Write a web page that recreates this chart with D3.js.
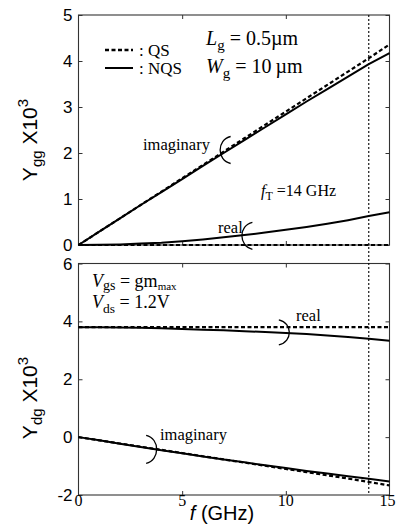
<!DOCTYPE html>
<html>
<head>
<meta charset="utf-8">
<script src="https://cdn.jsdelivr.net/npm/d3@7"></script>
<style>
  html, body { margin: 0; padding: 0; background: #fff; }
  svg { display: block; }
  .sans { font-family: "Liberation Sans", Arial, Helvetica, sans-serif; }
  .serif { font-family: "Liberation Serif", "Times New Roman", Times, serif; }
</style>
</head>
<body>
<svg id="chart" width="396" height="532"></svg>
<script>
// Frequency sweep (GHz)
const freq = [0, 1, 2, 3, 4, 5, 6, 7, 8, 9, 10, 11, 12, 13, 14, 15];

// Ygg x 10^3
const yggImagQS  = [0, 0.29, 0.58, 0.87, 1.16, 1.45, 1.74, 2.03, 2.32, 2.61, 2.90, 3.19, 3.48, 3.77, 4.06, 4.36];
const yggImagNQS = [0, 0.29, 0.58, 0.87, 1.15, 1.43, 1.72, 2.00, 2.28, 2.56, 2.84, 3.12, 3.39, 3.66, 3.93, 4.17];
const yggRealQS  = [0, 0, 0, 0, 0, 0, 0, 0, 0, 0, 0, 0, 0, 0, 0, 0];
const yggRealNQS = [0, 0.003, 0.012, 0.03, 0.05, 0.08, 0.12, 0.17, 0.215, 0.27, 0.33, 0.39, 0.46, 0.54, 0.63, 0.71];

// Ydg x 10^3
const ydgRealQS  = [3.80, 3.80, 3.80, 3.80, 3.80, 3.80, 3.80, 3.80, 3.80, 3.80, 3.80, 3.80, 3.80, 3.80, 3.80, 3.80];
const ydgRealNQS = [3.80, 3.80, 3.79, 3.78, 3.76, 3.74, 3.71, 3.69, 3.66, 3.63, 3.60, 3.56, 3.51, 3.46, 3.40, 3.33];
const ydgImagQS  = [0, -0.11, -0.22, -0.33, -0.44, -0.55, -0.66, -0.77, -0.88, -0.99, -1.10, -1.21, -1.32, -1.43, -1.55, -1.67];
const ydgImagNQS = [0, -0.11, -0.23, -0.34, -0.45, -0.56, -0.67, -0.77, -0.87, -0.97, -1.07, -1.17, -1.26, -1.35, -1.44, -1.53];

// Tick values
const xTicks = [0, 5, 10, 15];
const yggTicks = [0, 1, 2, 3, 4, 5];
const ydgTicks = [-2, 0, 2, 4, 6];
const fT = 14;

const svg = d3.select("#chart");
const x = d3.scaleLinear().domain([0, 15]).range([78.5, 389.5]);
const yTop = d3.scaleLinear().domain([0, 5]).range([245, 15]);
const yBot = d3.scaleLinear().domain([-2, 6]).range([495, 263.5]);

function panel(y, ticks) {
  const g = svg.append("g");
  const [x0, x1] = x.range();
  const [yb, yt] = y.range();
  // inward ticks on all four sides
  const tk = 4;
  const axes = [
    d3.axisLeft(y).tickValues(ticks).tickSize(-tk).tickFormat(""),
    d3.axisRight(y).tickValues(ticks).tickSize(-tk).tickFormat(""),
    d3.axisBottom(x).tickValues([5, 10]).tickSize(-tk).tickFormat(""),
    d3.axisTop(x).tickValues([5, 10]).tickSize(-tk).tickFormat("")
  ];
  const tr = [`translate(${x0},0)`, `translate(${x1},0)`, `translate(0,${yb})`, `translate(0,${yt})`];
  axes.forEach((a, i) => {
    const ag = g.append("g").attr("transform", tr[i]).call(a);
    ag.select(".domain").remove();
    ag.selectAll("line").attr("stroke", "#333").attr("stroke-width", 1);
  });
  g.append("rect")
    .attr("x", x0).attr("y", yt).attr("width", x1 - x0).attr("height", yb - yt)
    .attr("fill", "none").attr("stroke", "#333").attr("stroke-width", 1.1);

  // y tick labels
  g.selectAll("text.ytl").data(ticks).join("text")
    .attr("class", "ytl sans")
    .attr("x", x0 - 6).attr("y", d => y(d) + 6)
    .attr("text-anchor", "end")
    .attr("font-size", 17)
    .text(d => d);
  return g;
}

function line(y, vals, dashed) {
  const gen = d3.line().x((d, i) => x(freq[i])).y(d => y(d));
  svg.append("path")
    .datum(vals)
    .attr("d", gen)
    .attr("fill", "none")
    .attr("stroke", "#000")
    .attr("stroke-width", dashed ? 2.2 : 2)
    .attr("stroke-dasharray", dashed ? "4,2.5" : null);
}

panel(yTop, yggTicks);
panel(yBot, ydgTicks);

// fT marker spanning both panels
svg.append("line")
  .attr("x1", x(fT)).attr("x2", x(fT))
  .attr("y1", yTop.range()[1]).attr("y2", yBot.range()[0])
  .attr("stroke", "#000").attr("stroke-width", 1.1)
  .attr("stroke-dasharray", "2,2");

// data curves
line(yTop, yggImagQS, true);
line(yTop, yggImagNQS, false);
line(yTop, yggRealQS, true);
line(yTop, yggRealNQS, false);
line(yBot, ydgRealQS, true);
line(yBot, ydgRealNQS, false);
line(yBot, ydgImagQS, true);
line(yBot, ydgImagNQS, false);

// x tick labels (bottom panel)
svg.selectAll("text.xtl").data(xTicks).join("text")
  .attr("class", "xtl serif")
  .attr("x", d => x(d) - (d === 15 ? 2 : 0)).attr("y", 506)
  .attr("text-anchor", "middle")
  .attr("font-size", 16)
  .text(d => d);

// x axis title
const xt = svg.append("text")
  .attr("class", "sans")
  .attr("x", 222).attr("y", 520)
  .attr("text-anchor", "middle")
  .attr("font-size", 20);
xt.append("tspan").attr("font-style", "italic").text("f");
xt.append("tspan").text(" (GHz)");

// y axis titles
function yTitle(cy, sub) {
  const t = svg.append("text")
    .attr("class", "sans")
    .attr("transform", `translate(37,${cy}) rotate(-90)`)
    .attr("text-anchor", "middle")
    .attr("font-size", 21);
  t.append("tspan").text("Y");
  t.append("tspan").attr("font-size", 15).attr("dy", 5).text(sub);
  t.append("tspan").attr("dy", -5).text(" X10");
  t.append("tspan").attr("font-size", 15).attr("dy", -9).text("3");
}
yTitle(140, "gg");
yTitle(398, "dg");

// legend
svg.append("line").attr("x1", 105).attr("x2", 133).attr("y1", 50).attr("y2", 50)
  .attr("stroke", "#000").attr("stroke-width", 2.4).attr("stroke-dasharray", "4,2.5");
svg.append("line").attr("x1", 105).attr("x2", 133).attr("y1", 68).attr("y2", 68)
  .attr("stroke", "#000").attr("stroke-width", 2);
svg.append("text").attr("class", "serif").attr("x", 139).attr("y", 56)
  .attr("font-size", 17).text(": QS");
svg.append("text").attr("class", "serif").attr("x", 139).attr("y", 74)
  .attr("font-size", 17).text(": NQS");

// device annotations
function subText(px, py, main, sub, rest, size) {
  const t = svg.append("text").attr("class", "serif").attr("x", px).attr("y", py)
    .attr("font-size", size);
  t.append("tspan").attr("font-style", "italic").text(main);
  t.append("tspan").attr("font-size", size * 0.75).attr("dy", size * 0.25).text(sub);
  t.append("tspan").attr("dy", -size * 0.25).text(rest);
  return t;
}
subText(206, 45, "L", "g", " = 0.5\u00b5m", 20);
subText(206, 73, "W", "g", " = 10\u2009\u00b5m", 20);
subText(261, 196, "f", "T", " =14 GHz", 16);

// bias conditions
(function () {
  const t = svg.append("text").attr("class", "serif").attr("x", 92).attr("y", 287)
    .attr("font-size", 18);
  t.append("tspan").attr("font-style", "italic").text("V");
  t.append("tspan").attr("font-size", 14).attr("dy", 3).text("gs");
  t.append("tspan").attr("dy", -3).text(" = g");
  t.append("tspan").text("m");
  t.append("tspan").attr("font-size", 11).attr("dy", 3).text("max");
})();
subText(92, 308, "V", "ds", " = 1.2V", 18);

// curve labels with brackets
function label(px, py, s) {
  svg.append("text").attr("class", "serif").attr("x", px).attr("y", py)
    .attr("font-size", 16.5).text(s);
}
function bracket(cx, cy, h, dir) {
  // dir = 1 opens to the right "(", dir = -1 opens to the left ")"
  const w = 14 * dir;
  const p = d3.path();
  p.moveTo(cx + w / 2, cy - h / 2);
  p.bezierCurveTo(cx - w / 2, cy - h / 2 + 3, cx - w / 2, cy + h / 2 - 3, cx + w / 2, cy + h / 2);
  svg.append("path").attr("d", p.toString())
    .attr("fill", "none").attr("stroke", "#000").attr("stroke-width", 1.3);
}
label(143, 150, "imaginary");
bracket(x(7.0), yTop(2.0) - 3, 27, 1);
label(218, 233, "real");
bracket(x(8.05), yTop(0.2), 27, 1);
label(296, 321, "real");
bracket(x(10.0), yBot(3.62), 25, -1);
label(160, 440, "imaginary");
bracket(x(3.6), yBot(-0.42), 28, -1);
</script>
</body>
</html>
